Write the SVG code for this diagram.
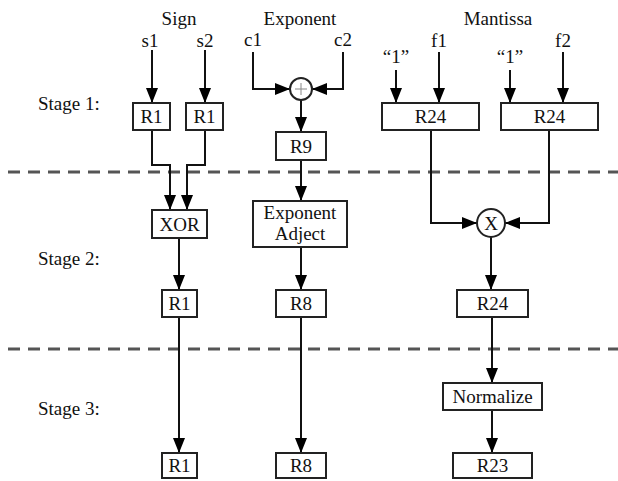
<svg xmlns="http://www.w3.org/2000/svg" width="618" height="481" viewBox="0 0 618 481" font-family="'Liberation Serif', 'DejaVu Serif', serif">
<defs>
<marker id="arr" viewBox="0 0 15 12" refX="15" refY="6" markerWidth="15" markerHeight="12" markerUnits="userSpaceOnUse" orient="auto">
<path d="M0,0 L15,6 L0,12 z" fill="#000"/>
</marker>
</defs>
<style>
text{font-family:'Liberation Serif','DejaVu Serif',serif;font-size:19px;fill:#111;}
.mid{text-anchor:middle;}
.box{fill:#fff;stroke:#222;stroke-width:2;}
.a{fill:none;stroke:#111;stroke-width:2;marker-end:url(#arr);}
.dash{stroke:#555;stroke-width:3;stroke-dasharray:12 8;}
</style>
<rect width="618" height="481" fill="#fff"/>
<g id="stage-lines">
<line class="dash" x1="8" y1="172" x2="618" y2="172"/>
<line class="dash" x1="8" y1="349" x2="618" y2="349"/>
</g>
<g id="labels">
<text class="mid" x="179" y="25">Sign</text>
<text class="mid" x="300" y="25">Exponent</text>
<text class="mid" x="498" y="25">Mantissa</text>
<text class="mid" x="150" y="47">s1</text>
<text class="mid" x="205" y="47">s2</text>
<text class="mid" x="253" y="46">c1</text>
<text class="mid" x="343" y="46">c2</text>
<text class="mid" x="439" y="47">f1</text>
<text class="mid" x="563" y="47">f2</text>
<text class="mid" x="396" y="63">“1”</text>
<text class="mid" x="510" y="63">“1”</text>
<text x="38" y="110">Stage 1:</text>
<text x="38" y="265">Stage 2:</text>
<text x="38" y="415">Stage 3:</text>
</g>
<g id="connectors">
<line class="a" x1="152" y1="50" x2="152" y2="103"/>
<line class="a" x1="205" y1="50" x2="205" y2="103"/>
<path class="a" d="M152,130 V165 H170 V210"/>
<path class="a" d="M205,130 V165 H187 V210"/>
<line class="a" x1="179" y1="238" x2="179" y2="290"/>
<line class="a" x1="179" y1="317" x2="179" y2="453"/>
<path class="a" d="M253,52 V89 H290"/>
<path class="a" d="M343,52 V89 H312"/>
<line class="a" x1="301" y1="100" x2="301" y2="132"/>
<line class="a" x1="301" y1="160" x2="301" y2="201"/>
<line class="a" x1="301" y1="247" x2="301" y2="290"/>
<line class="a" x1="301" y1="317" x2="301" y2="453"/>
<line class="a" x1="396" y1="70" x2="396" y2="103"/>
<line class="a" x1="439" y1="52" x2="439" y2="103"/>
<line class="a" x1="510" y1="70" x2="510" y2="103"/>
<line class="a" x1="563" y1="52" x2="563" y2="103"/>
<path class="a" d="M431,130 V223 H477"/>
<path class="a" d="M549,130 V223 H505"/>
<line class="a" x1="491" y1="237" x2="491" y2="290"/>
<line class="a" x1="492" y1="317" x2="492" y2="383"/>
<line class="a" x1="492" y1="410" x2="492" y2="453"/>
</g>
<g id="s1-r1"><rect class="box" x="133" y="103" width="37" height="27"/><text class="mid" x="151.5" y="123">R1</text></g>
<g id="s2-r1"><rect class="box" x="186" y="103" width="37" height="27"/><text class="mid" x="204.5" y="123">R1</text></g>
<g id="add"><circle cx="301" cy="89" r="11" fill="#fff" stroke="#222" stroke-width="2"/><path d="M295,89 H307 M301,83 V95" stroke="#888" stroke-width="1" fill="none"/></g>
<g id="r9"><rect class="box" x="276" y="132" width="50" height="28"/><text class="mid" x="301" y="153">R9</text></g>
<g id="r24-a"><rect class="box" x="382" y="103" width="97" height="27"/><text class="mid" x="430.5" y="123">R24</text></g>
<g id="r24-b"><rect class="box" x="501" y="103" width="97" height="27"/><text class="mid" x="549.5" y="123">R24</text></g>
<g id="xor"><rect class="box" x="152" y="210" width="55" height="28"/><text class="mid" x="179.5" y="231">XOR</text></g>
<g id="exp-adj"><rect class="box" x="253" y="201" width="94" height="46"/><text class="mid" x="300" y="219">Exponent</text><text class="mid" x="300" y="240">Adject</text></g>
<g id="mul"><circle cx="491" cy="223" r="14" fill="#fff" stroke="#222" stroke-width="2"/><text class="mid" x="491" y="230">X</text></g>
<g id="r1-s2"><rect class="box" x="162" y="290" width="35" height="27"/><text class="mid" x="179.5" y="310">R1</text></g>
<g id="r8-s2"><rect class="box" x="276" y="290" width="50" height="27"/><text class="mid" x="301" y="310">R8</text></g>
<g id="r24-s2"><rect class="box" x="457" y="290" width="71" height="27"/><text class="mid" x="492.5" y="310">R24</text></g>
<g id="normalize"><rect class="box" x="443" y="383" width="99" height="27"/><text class="mid" x="492.5" y="403">Normalize</text></g>
<g id="r1-s3"><rect class="box" x="162" y="453" width="35" height="25"/><text class="mid" x="179.5" y="472">R1</text></g>
<g id="r8-s3"><rect class="box" x="276" y="453" width="50" height="25"/><text class="mid" x="301" y="472">R8</text></g>
<g id="r23"><rect class="box" x="453" y="453" width="79" height="25"/><text class="mid" x="492.5" y="472">R23</text></g>
</svg>
